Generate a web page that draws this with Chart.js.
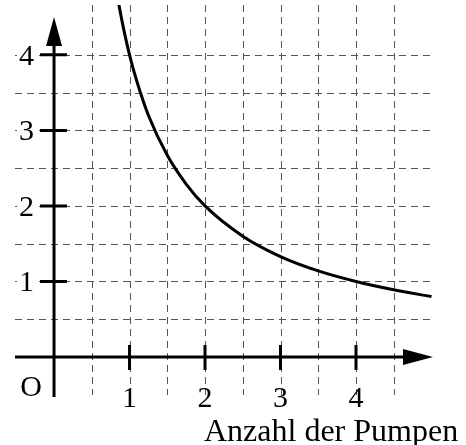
<!DOCTYPE html>
<html>
<head>
<meta charset="utf-8">
<script src="https://cdn.jsdelivr.net/npm/chart.js@4"></script>
<style>
  html, body { margin: 0; padding: 0; background: #fff; }
  #wrap { width: 466px; height: 445px; }
</style>
</head>
<body>
<div id="wrap"><canvas id="myChart" width="466" height="445"></canvas></div>
<script>
// values
const pumpen = [0.82, 0.9, 1, 1.1, 1.25, 1.5, 1.75, 2, 2.5, 3, 3.5, 4, 4.5, 5];
const zeit = [4.88, 4.45, 4.0, 3.64, 3.2, 2.67, 2.29, 2.0, 1.6, 1.33, 1.14, 1.0, 0.89, 0.8];
const xTickLabels = [1, 2, 3, 4];
const yTickLabels = [1, 2, 3, 4];
const xGrid = [0.5, 1, 1.5, 2, 2.5, 3, 3.5, 4, 4.5];
const yGrid = [0.5, 1, 1.5, 2, 2.5, 3, 3.5, 4];
const xTitle = 'Anzahl der Pumpen';

const font = '30px "Liberation Serif", "Times New Roman", serif';

// axes, grid, arrows and labels drawn with the chart scales
const axesPlugin = {
    id: 'axesPlugin',
    beforeDatasetsDraw(chart) {
        const ctx = chart.ctx;
        const a = chart.chartArea;
        const xs = chart.scales.x;
        const ys = chart.scales.y;
        const x0 = xs.getPixelForValue(0);
        const y0 = ys.getPixelForValue(0);

        ctx.save();
        // dashed grid
        ctx.strokeStyle = '#555';
        ctx.lineWidth = 1;
        ctx.setLineDash([7, 5]);
        xGrid.forEach(v => {
            const px = Math.round(xs.getPixelForValue(v)) + 0.5;
            ctx.beginPath();
            ctx.moveTo(px, a.top);
            ctx.lineTo(px, a.bottom);
            ctx.stroke();
        });
        yGrid.forEach(v => {
            const py = Math.round(ys.getPixelForValue(v)) + 0.5;
            ctx.beginPath();
            ctx.moveTo(a.left, py);
            ctx.lineTo(a.right, py);
            ctx.stroke();
        });
        ctx.setLineDash([]);

        // axes
        ctx.strokeStyle = '#000';
        ctx.fillStyle = '#000';
        ctx.lineWidth = 3;
        ctx.beginPath();
        ctx.moveTo(a.left, y0);
        ctx.lineTo(a.right - 20, y0);
        ctx.moveTo(x0, a.bottom + 2);
        ctx.lineTo(x0, a.top + 25);
        ctx.stroke();

        // arrow heads
        ctx.beginPath();
        ctx.moveTo(a.right, y0);
        ctx.lineTo(a.right - 30, y0 - 8);
        ctx.lineTo(a.right - 30, y0 + 8);
        ctx.closePath();
        ctx.fill();
        ctx.beginPath();
        ctx.moveTo(x0, a.top + 12);
        ctx.lineTo(x0 - 8, a.top + 41);
        ctx.lineTo(x0 + 8, a.top + 41);
        ctx.closePath();
        ctx.fill();

        // tick marks
        ctx.beginPath();
        xTickLabels.forEach(v => {
            const px = xs.getPixelForValue(v);
            ctx.moveTo(px, y0 - 12);
            ctx.lineTo(px, y0 + 13);
        });
        yTickLabels.forEach(v => {
            const py = ys.getPixelForValue(v);
            ctx.moveTo(x0 - 14, py);
            ctx.lineTo(x0 + 13, py);
        });
        ctx.stroke();

        // labels
        ctx.font = font;
        ctx.textBaseline = 'middle';
        ctx.textAlign = 'center';
        xTickLabels.forEach(v => {
            ctx.fillText(String(v), xs.getPixelForValue(v), y0 + 42);
        });
        ctx.textAlign = 'right';
        yTickLabels.forEach(v => {
            const py = ys.getPixelForValue(v);
            ctx.fillStyle = '#fff';
            ctx.fillRect(a.left + 2, py - 12, 20, 24);
            ctx.fillStyle = '#000';
            ctx.fillText(String(v), x0 - 20, py + 2);
        });
        ctx.textAlign = 'center';
        ctx.fillText('O', x0 - 23, y0 + 31);

        ctx.textAlign = 'left';
        ctx.textBaseline = 'alphabetic';
        ctx.font = '32px "Liberation Serif", "Times New Roman", serif';
        ctx.fillText(xTitle, 204, 441);
        ctx.restore();
    }
};

const data = {
    datasets: [
        {
            data: pumpen.map((p, i) => ({ x: p, y: zeit[i] })),
            borderColor: '#000',
            borderWidth: 3,
            pointRadius: 0,
            fill: false,
            cubicInterpolationMode: 'monotone',
        },
    ],
};

const config = {
    type: 'line',
    data,
    plugins: [axesPlugin],
    options: {
        responsive: false,
        animation: false,
        layout: {
            padding: { left: 15, top: 5, right: 33, bottom: 50 },
        },
        plugins: {
            legend: { display: false },
            tooltip: { enabled: false },
        },
        scales: {
            x: { type: 'linear', min: -0.517, max: 5.02, display: false },
            y: { type: 'linear', min: -0.503, max: 4.66, display: false },
        },
    },
};

const myChart = new Chart(document.getElementById('myChart'), config);
</script>
</body>
</html>
